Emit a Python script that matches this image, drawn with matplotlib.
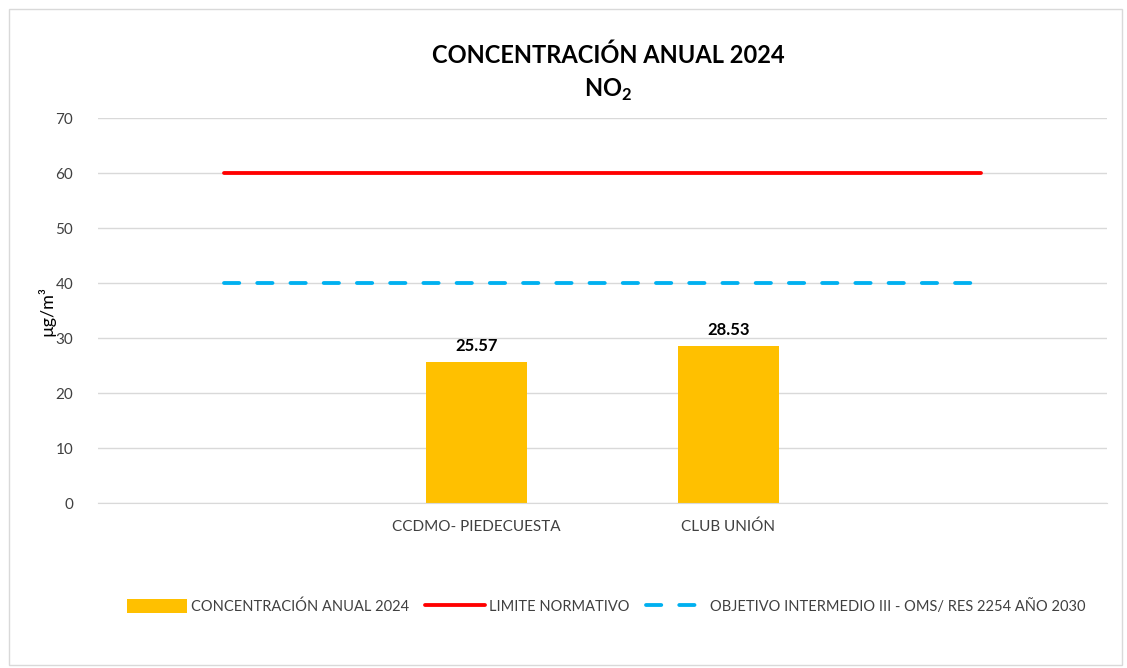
import matplotlib
matplotlib.use("Agg")
import matplotlib.pyplot as plt
from matplotlib.patches import Rectangle

categories = ["", "CCDMO- PIEDECUESTA", "CLUB UNIÓN", ""]
bar_values = [None, 25.57, 28.53, None]
limite = [60, 60, 60, 60]
objetivo = [40, 40, 40, 40]
yticks = [0, 10, 20, 30, 40, 50, 60, 70]

plt.rcParams['font.family'] = ['Lato', 'DejaVu Sans']

fig = plt.figure(figsize=(11.27, 6.68), dpi=100)
fig.patches.append(Rectangle((0.008, 0.005), 0.988, 0.982, transform=fig.transFigure,
                             fill=False, edgecolor='#D9D9D9', linewidth=1))
ax = fig.add_axes([0.087, 0.247, 0.895, 0.576])

x = list(range(len(categories)))
bx = [i for i, v in zip(x, bar_values) if v is not None]
bv = [v for v in bar_values if v is not None]
h_bar = ax.bar(bx, bv, width=0.4, color='#FFC000', label='CONCENTRACIÓN ANUAL 2024', zorder=2)
h_lim, = ax.plot(x, limite, color='#FF0000', linewidth=2.75, solid_capstyle='round',
                 label='LIMITE NORMATIVO', zorder=3)
h_obj, = ax.plot(x, objetivo, color='#00B0F0', linewidth=2.75, linestyle=(0, (4.0, 4.7)),
                 dash_capstyle='round', label='OBJETIVO INTERMEDIO III - OMS/ RES 2254 AÑO 2030',
                 zorder=3)

for xi, v in zip(bx, bv):
    ax.text(xi, v + 1.5, f"{v:.2f}", ha='center', va='bottom', fontsize=12,
            fontweight='bold', color='#000000')

ax.set_xlim(-0.5, len(categories) - 0.5)
ax.set_ylim(0, 70)
ax.set_yticks(yticks)
ax.set_xticks(x)
ax.set_xticklabels(categories, fontsize=11, color='#404040')
ax.tick_params(axis='y', labelsize=11, labelcolor='#404040', length=0, pad=18)
ax.tick_params(axis='x', length=0, pad=12)
ax.grid(axis='y', color='#D9D9D9', linewidth=1, zorder=0)
ax.set_axisbelow(True)
for s in ['top', 'right', 'left']:
    ax.spines[s].set_visible(False)
ax.spines['bottom'].set_color('#D9D9D9')
ax.set_ylabel('µg/m³', fontsize=13, color='#000000', labelpad=0)

fig.text(0.540, 0.918, 'CONCENTRACIÓN ANUAL 2024', ha='center', va='center',
         fontsize=17, fontweight='bold')
fig.text(0.540, 0.865, r'NO$_\mathregular{2}$', ha='center', va='center',
         fontsize=17, fontweight='bold')

fig.legend([h_bar, h_lim, h_obj],
           [h_bar.get_label(), h_lim.get_label(), h_obj.get_label()],
           loc='center', bbox_to_anchor=(0.538, 0.092), ncol=3, frameon=False,
           fontsize=10.5, handlelength=4.1, handleheight=1.0, columnspacing=1.1,
           handletextpad=0.3, labelcolor='#404040')

fig.savefig('out.png', dpi=100)
